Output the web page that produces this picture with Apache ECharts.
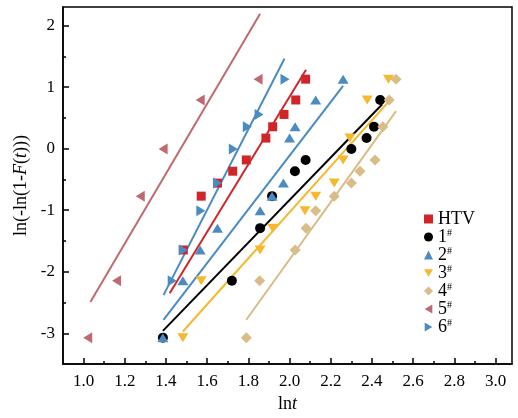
<!DOCTYPE html>
<html>
<head>
<meta charset="utf-8">
<script src="https://cdn.jsdelivr.net/npm/echarts@6/dist/echarts.min.js"></script>
<style>html,body{margin:0;padding:0;background:#fff}#c{width:518px;height:418px}</style>
</head>
<body>
<div id="c"></div>
<script>
// ---- data ----
const seriesNames = ['HTV', '1#', '2#', '3#', '4#', '5#', '6#'];
const htv = [[1.484,-1.646],[1.571,-0.772],[1.65,-0.56],[1.724,-0.367],[1.79,-0.184],[1.885,0.171],[1.918,0.355],[1.973,0.555],[2.03,0.79],[2.078,1.128]];
const s1 = [[1.385,-3.07],[1.72,-2.146],[1.857,-1.292],[1.915,-0.772],[2.026,-0.367],[2.078,-0.184],[2.30,-0.006],[2.374,0.171],[2.41,0.355],[2.44,0.79]];
const s2 = [[1.385,-3.07],[1.482,-2.146],[1.566,-1.646],[1.65,-1.292],[1.857,-1.01],[1.915,-0.772],[1.97,-0.56],[2.0,0.171],[2.027,0.355],[2.127,0.79],[2.26,1.128]];
const s3 = [[1.482,-3.07],[1.571,-2.146],[1.857,-1.646],[1.918,-1.292],[2.075,-1.01],[2.127,-0.772],[2.217,-0.56],[2.26,-0.184],[2.293,0.171],[2.377,0.79],[2.48,1.128]];
const s4 = [[1.79,-3.07],[1.855,-2.146],[2.027,-1.646],[2.08,-1.292],[2.127,-1.01],[2.217,-0.772],[2.30,-0.56],[2.342,-0.367],[2.415,-0.184],[2.453,0.355],[2.484,0.79],[2.517,1.128]];
const s5 = [[1.02,-3.07],[1.16,-2.146],[1.275,-0.772],[1.386,-0.006],[1.566,0.79],[1.847,1.128]];
const s6 = [[1.43,-2.146],[1.484,-1.646],[1.569,-1.01],[1.65,-0.56],[1.727,-0.006],[1.795,0.355],[1.852,0.555],[1.978,1.128]];
// fitted lines (start / end points)
const fitHTV = [[1.418,-2.35],[2.08,1.28]];
const fit1 = [[1.385,-2.96],[2.45,0.72]];
const fit2 = [[1.388,-2.78],[2.26,1.02]];
const fit3 = [[1.482,-2.97],[2.48,0.76]];
const fit4 = [[1.79,-2.78],[2.517,0.61]];
const fit5 = [[1.033,-2.49],[1.857,2.19]];
const fit6 = [[1.388,-2.38],[1.975,1.46]];
// tick labels
const xMajor = [1.0,1.2,1.4,1.6,1.8,2.0,2.2,2.4,2.6,2.8,3.0];
const xMinor = [1.1,1.3,1.5,1.7,1.9,2.1,2.3,2.5,2.7,2.9];
const yMajor = [-3,-2,-1,0,1,2];
const yMinor = [-2.5,-1.5,-0.5,0.5,1.5];

const colors = ['#D0262A','#000000','#4A8BC2','#F5B82E','#D9BC87','#C0696F','#4A8BC2'];
const symbols = ['rect','circle','triangle','path://M0,0 L2,0 L1,1.7 Z','diamond','path://M1.7,0 L1.7,2 L0,1 Z','path://M0,0 L0,2 L1.7,1 Z'];
const sizes = [[9,9],10,[11,9],[11,9],[11,11],[9,11],[9,11]];
const pts = [htv,s1,s2,s3,s4,s5,s6];
const fits = [fitHTV,fit1,fit2,fit3,fit4,fit5,fit6];

const FONT = '"Liberation Serif","Times New Roman",serif';
const series = [];
fits.forEach((f,i)=>{
  series.push({type:'line', data:f, symbol:'none', silent:true, z:2,
    lineStyle:{color:colors[i], width:2}, itemStyle:{color:colors[i]}});
});
pts.forEach((p,i)=>{
  series.push({type:'scatter', name:seriesNames[i], data:p, symbol:symbols[i], symbolSize:sizes[i], z:3,
    itemStyle:{color:colors[i], opacity:1}});
});

const chart = echarts.init(document.getElementById('c'), null, {renderer:'canvas'});
chart.setOption({
  animation:false,
  backgroundColor:'#fff',
  grid:{left:63, right:6, top:7, bottom:48, show:true, borderColor:'#000', borderWidth:1.5},
  legend:{
    orient:'vertical', left:419, top:205, itemWidth:9, itemHeight:9, itemGap:0,
    data:seriesNames,
    textStyle:{fontFamily:FONT, fontSize:18, color:'#000', lineHeight:18,
      rich:{n:{fontFamily:FONT, fontSize:18, lineHeight:18, color:'#000'},
            s:{fontFamily:FONT, fontSize:10, lineHeight:18, verticalAlign:'top', color:'#000', padding:[0,0,6,0]}}},
    formatter:function(n){ if(n.indexOf('#')>0){return '{n|'+n.replace('#','')+'}{s|#}';} return '{n|'+n+'}'; }
  },
  xAxis:[{
    type:'value', min:0.9, max:3.08, position:'bottom',
    name:'{a|ln}{i|t}', nameLocation:'middle', nameGap:27,
    nameTextStyle:{rich:{a:{fontFamily:FONT,fontSize:18,color:'#000'},i:{fontFamily:FONT,fontSize:18,fontStyle:'italic',color:'#000'}}},
    axisLine:{show:true, onZero:false, lineStyle:{color:'#000', width:1.5}},
    axisTick:{show:true, inside:true, length:6, customValues:xMajor, lineStyle:{color:'#000', width:1.5}},
    axisLabel:{customValues:xMajor, fontFamily:FONT, fontSize:17, color:'#000', margin:9, formatter:v=>v.toFixed(1)},
    splitLine:{show:false}
  },{
    type:'value', min:0.9, max:3.08, position:'bottom',
    axisLine:{show:false, onZero:false},
    axisTick:{show:true, inside:true, length:3, customValues:xMinor, lineStyle:{color:'#000', width:1.5}},
    axisLabel:{show:false}, splitLine:{show:false}
  }],
  yAxis:[{
    type:'value', min:-3.5, max:2.3, position:'left',
    name:'{a|ln(-ln(1-}{i|F}{a|(}{i|t}{a|)))}', nameLocation:'middle', nameGap:33, nameRotate:90,
    nameTextStyle:{rich:{a:{fontFamily:FONT,fontSize:18,color:'#000'},i:{fontFamily:FONT,fontSize:18,fontStyle:'italic',color:'#000'}}},
    axisLine:{show:true, onZero:false, lineStyle:{color:'#000', width:1.5}},
    axisTick:{show:true, inside:true, length:6, customValues:yMajor, lineStyle:{color:'#000', width:1.5}},
    axisLabel:{customValues:yMajor, fontFamily:FONT, fontSize:17, color:'#000', margin:8},
    splitLine:{show:false}
  },{
    type:'value', min:-3.5, max:2.3, position:'left',
    axisLine:{show:false, onZero:false},
    axisTick:{show:true, inside:true, length:3, customValues:yMinor, lineStyle:{color:'#000', width:1.5}},
    axisLabel:{show:false}, splitLine:{show:false}
  }],
  series:series
});
</script>
</body>
</html>
